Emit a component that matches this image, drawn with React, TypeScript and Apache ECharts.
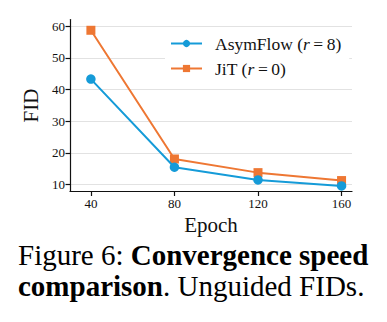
import React, { useEffect, useRef } from "react";
import * as echarts from "echarts";

const epochs = [40, 80, 120, 160];
const asymFlow = [43.3, 15.5, 11.5, 9.6];
const jit = [58.7, 18.1, 13.8, 11.3];
const yTicks = [10, 20, 30, 40, 50, 60];
const xTicks = [40, 80, 120, 160];

const SERIF = "Liberation Serif";
const TS = "\u2009";

export default function App() {
  const ref = useRef<HTMLDivElement>(null);
  useEffect(() => {
    const chart = echarts.init(ref.current!, null, { renderer: "svg" });
    chart.setOption({
      animation: false,
      backgroundColor: "#ffffff",
      textStyle: { fontFamily: SERIF, color: "#111" },
      grid: { left: 70, right: 35, top: 19.5, bottom: 130.5, containLabel: false },
      xAxis: {
        type: "value",
        min: 30,
        max: 165,
        name: "Epoch",
        nameLocation: "middle",
        nameGap: 21,
        nameTextStyle: { fontFamily: SERIF, fontSize: 21, color: "#111" },
        axisLine: { show: true, onZero: false, lineStyle: { color: "#111", width: 1.2 } },
        axisTick: { show: true, length: 4.5, customValues: xTicks, lineStyle: { color: "#111", width: 1.2 } },
        axisLabel: { customValues: xTicks, fontFamily: SERIF, fontSize: 13, color: "#111", margin: 5 },
        splitLine: { show: false },
      },
      yAxis: {
        type: "value",
        min: 7.85,
        max: 62.1,
        name: "FID",
        nameLocation: "middle",
        nameGap: 27,
        nameTextStyle: { fontFamily: SERIF, fontSize: 21, color: "#111" },
        axisLine: { show: true, onZero: false, lineStyle: { color: "#111", width: 1.2 } },
        axisTick: { show: true, length: 4.5, customValues: yTicks, lineStyle: { color: "#111", width: 1.2 } },
        axisLabel: { customValues: yTicks, fontFamily: SERIF, fontSize: 13, color: "#111", margin: 5 },
        splitLine: { show: false },
      },
      legend: {
        orient: "vertical",
        left: 165,
        top: 28.5,
        padding: [6, 8, 6, 5],
        backgroundColor: "#ffffff",
        itemWidth: 31,
        itemHeight: 9,
        itemGap: 7,
        data: ["AsymFlow", "JiT"],
        formatter: (name: string) =>
          name === "AsymFlow"
            ? `{a|AsymFlow (}{i|r}{a|${TS}=${TS}8)}`
            : `{a|JiT (}{i|r}{a|${TS}=${TS}0)}`,
        textStyle: {
          fontFamily: SERIF,
          fontSize: 17.5,
          color: "#111",
          padding: [0, 0, 0, 8],
          rich: {
            a: { fontFamily: SERIF, fontSize: 17.5, color: "#111", lineHeight: 18 },
            i: { fontFamily: SERIF, fontSize: 17.5, fontStyle: "italic", color: "#111", lineHeight: 18 },
          },
        },
      },
      series: [
        {
          name: "AsymFlow",
          type: "line",
          data: epochs.map((e, i) => [e, asymFlow[i]]),
          color: "#159bd8",
          symbol: "circle",
          symbolSize: 9.5,
          lineStyle: { width: 2 },
          markLine: {
            silent: true,
            symbol: "none",
            label: { show: false },
            lineStyle: { color: "#e2e2e2", width: 1, type: "solid" },
            z: 0,
            data: yTicks.map((v) => ({ yAxis: v })),
          },
          z: 3,
        },
        {
          name: "JiT",
          type: "line",
          data: epochs.map((e, i) => [e, jit[i]]),
          color: "#ee7733",
          symbol: "rect",
          symbolSize: 9,
          lineStyle: { width: 2 },
          z: 2,
        },
      ],
      graphic: [
        {
          type: "text",
          left: 18,
          top: 240,
          style: {
            text: "{n|Figure 6: }{b|Convergence speed}\n{b|comparison}{n|. Unguided FIDs.}",
            rich: {
              n: { fontFamily: SERIF, fontSize: 29, color: "#111", lineHeight: 31 },
              b: { fontFamily: SERIF, fontSize: 29, fontWeight: "bold", color: "#111", lineHeight: 31 },
            },
          },
        },
      ],
    });
    return () => chart.dispose();
  }, []);
  return <div ref={ref} style={{ width: 387, height: 322, position: "absolute", left: 0, top: 0 }} />;
}
